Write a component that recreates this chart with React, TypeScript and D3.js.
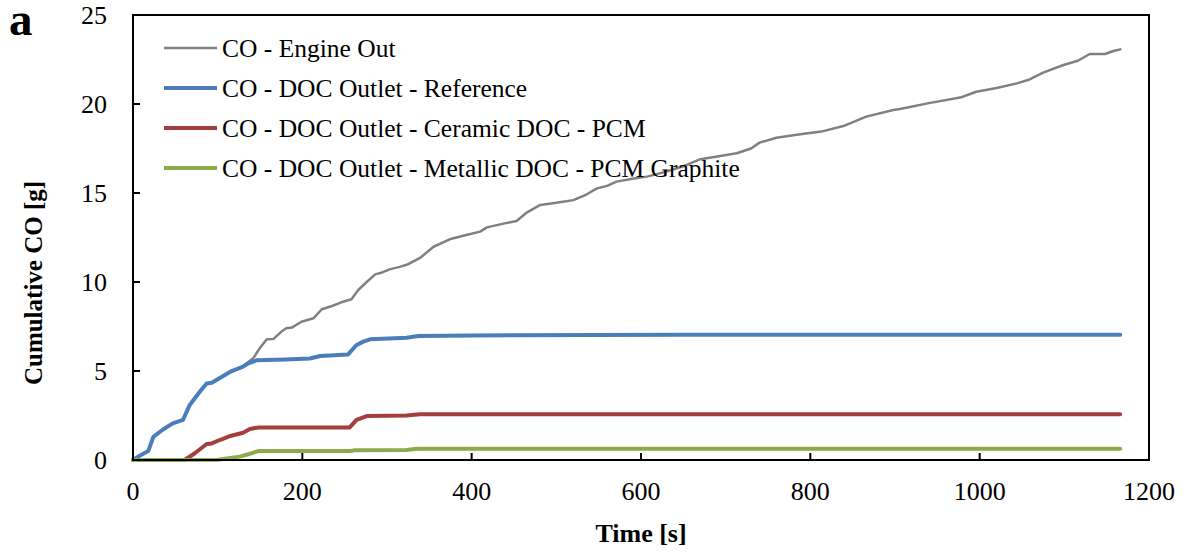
import React from "react";
import * as d3 from "d3";

const engineOutT = [0, 10, 18, 24, 35, 47, 59, 67, 80, 87, 93, 104, 115, 128, 142, 150, 158, 166, 175, 181, 188, 199, 213, 223, 235, 246, 258, 266, 276, 286, 295, 303, 315, 325, 333, 339, 355, 365, 374, 390, 410, 418, 435, 453, 465, 481, 500, 520, 535, 548, 560, 571, 590, 607, 630, 650, 670, 690, 713, 730, 740, 760, 788, 813, 839, 866, 898, 906, 940, 977, 996, 1020, 1044, 1059, 1075, 1099, 1116, 1130, 1148, 1158, 1166];
const engineOutV = [0, 0.3, 0.5, 1.3, 1.7, 2.06, 2.25, 3.09, 3.9, 4.3, 4.34, 4.65, 4.96, 5.2, 5.71, 6.3, 6.78, 6.8, 7.2, 7.4, 7.45, 7.77, 7.96, 8.47, 8.65, 8.86, 9.03, 9.55, 10.0, 10.43, 10.55, 10.71, 10.85, 11.0, 11.2, 11.35, 11.98, 12.2, 12.4, 12.6, 12.83, 13.07, 13.25, 13.43, 13.9, 14.33, 14.45, 14.6, 14.9, 15.26, 15.4, 15.64, 15.8, 15.92, 16.2, 16.5, 16.9, 17.05, 17.23, 17.5, 17.83, 18.1, 18.3, 18.45, 18.76, 19.29, 19.66, 19.72, 20.05, 20.36, 20.69, 20.9, 21.16, 21.38, 21.76, 22.19, 22.43, 22.81, 22.81, 22.98, 23.07];

const referenceT = [0, 10, 18, 24, 35, 47, 59, 67, 80, 87, 93, 104, 115, 128, 137, 146, 180, 209, 221, 254, 264, 272, 280, 323, 337, 400, 650, 1166];
const referenceV = [0, 0.3, 0.5, 1.3, 1.7, 2.06, 2.25, 3.09, 3.9, 4.3, 4.34, 4.65, 4.96, 5.2, 5.45, 5.6, 5.65, 5.7, 5.84, 5.93, 6.46, 6.65, 6.78, 6.87, 6.97, 7.0, 7.03, 7.03];

const ceramicT = [0, 61, 73, 87, 93, 104, 115, 130, 138, 148, 256, 264, 276, 323, 339, 1166];
const ceramicV = [0, 0, 0.38, 0.9, 0.93, 1.15, 1.35, 1.53, 1.74, 1.83, 1.83, 2.25, 2.47, 2.5, 2.57, 2.57];

const metallicT = [0, 100, 126, 136, 148, 256, 262, 323, 335, 1166];
const metallicV = [0, 0.02, 0.19, 0.32, 0.5, 0.5, 0.55, 0.56, 0.63, 0.63];

const xTicks = [0, 200, 400, 600, 800, 1000, 1200];
const yTicks = [0, 5, 10, 15, 20, 25];

const seriesNames = [
  "CO - Engine Out",
  "CO - DOC Outlet - Reference",
  "CO - DOC Outlet - Ceramic DOC - PCM",
  "CO - DOC Outlet - Metallic DOC - PCM Graphite",
];
const seriesColors = ["#808080", "#4A7EBB", "#A33F3C", "#8DAB4C"];
const seriesWidths = [2.5, 4, 4, 4];

const FONT = "'Liberation Serif', 'Times New Roman', serif";

export default function App() {
  const W = 1189, H = 554;
  const left = 133, right = 1149, top = 15, bottom = 460;
  const x = d3.scaleLinear().domain([0, 1200]).range([left, right]);
  const y = d3.scaleLinear().domain([0, 25]).range([bottom, top]);
  const line = d3.line<[number, number]>().x(d => x(d[0])).y(d => y(d[1]));

  const series = [
    d3.zip(engineOutT, engineOutV) as [number, number][],
    d3.zip(referenceT, referenceV) as [number, number][],
    d3.zip(ceramicT, ceramicV) as [number, number][],
    d3.zip(metallicT, metallicV) as [number, number][],
  ];

  return (
    <svg width={W} height={H} style={{ position: "absolute", left: 0, top: 0, background: "#fff" }} fontFamily={FONT}>
      <rect x={0} y={0} width={W} height={H} fill="#fff" />
      {/* series */}
      {series.map((s, i) => (
        <path key={i} d={line(s) || ""} fill="none" stroke={seriesColors[i]} strokeWidth={seriesWidths[i]} strokeLinejoin="round" strokeLinecap="round" />
      ))}
      {/* frame */}
      <rect x={left} y={top} width={right - left} height={bottom - top} fill="none" stroke="#000" strokeWidth={2} />
      {/* ticks */}
      {yTicks.map(t => (
        <g key={"y" + t}>
          <line x1={left} x2={left + 7} y1={y(t)} y2={y(t)} stroke="#000" strokeWidth={2} />
          <text x={left - 26} y={y(t)} dy="0.35em" textAnchor="end" fontSize={26} fill="#000">{t}</text>
        </g>
      ))}
      {xTicks.map(t => (
        <g key={"x" + t}>
          <line x1={x(t)} x2={x(t)} y1={bottom} y2={bottom - 7} stroke="#000" strokeWidth={2} />
          <text x={x(t)} y={500} textAnchor="middle" fontSize={26} fill="#000">{t}</text>
        </g>
      ))}
      {/* axis titles */}
      <text x={641} y={542} textAnchor="middle" fontSize={26} fontWeight="bold" fill="#000">Time [s]</text>
      <text transform="translate(42,283) rotate(-90)" textAnchor="middle" fontSize={25} fontWeight="bold" fill="#000">Cumulative CO [g]</text>
      <text x={9} y={35} fontSize={47} fontWeight="bold" fill="#000">a</text>
      {/* legend */}
      {seriesNames.map((n, i) => (
        <g key={n}>
          <line x1={164} x2={217} y1={48 + i * 40} y2={48 + i * 40} stroke={seriesColors[i]} strokeWidth={seriesWidths[i]} />
          <text x={222} y={57 + i * 40} fontSize={25.5} fill="#000">{n}</text>
        </g>
      ))}
    </svg>
  );
}
